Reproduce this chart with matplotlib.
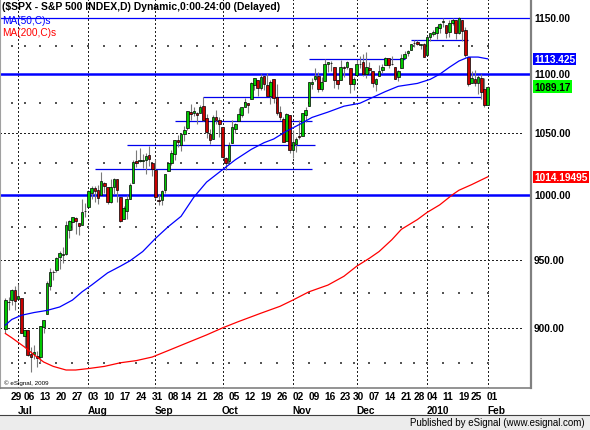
import matplotlib
matplotlib.use('Agg')
import matplotlib.pyplot as plt
import matplotlib.transforms as mtransforms
from matplotlib.patches import Rectangle
from matplotlib.lines import Line2D
import numpy as np

plt.rcParams['font.family'] = ['Liberation Sans', 'DejaVu Sans']

# trading days shown (Jun 25 2009 .. Feb 1 2010)
dates = [
    '2009-06-25', '2009-06-26', '2009-06-29', '2009-06-30',
    '2009-07-01', '2009-07-02', '2009-07-06', '2009-07-07', '2009-07-08', '2009-07-09', '2009-07-10',
    '2009-07-13', '2009-07-14', '2009-07-15', '2009-07-16', '2009-07-17', '2009-07-20', '2009-07-21',
    '2009-07-22', '2009-07-23', '2009-07-24', '2009-07-27', '2009-07-28', '2009-07-29', '2009-07-30',
    '2009-07-31',
    '2009-08-03', '2009-08-04', '2009-08-05', '2009-08-06', '2009-08-07', '2009-08-10', '2009-08-11',
    '2009-08-12', '2009-08-13', '2009-08-14', '2009-08-17', '2009-08-18', '2009-08-19', '2009-08-20',
    '2009-08-21', '2009-08-24', '2009-08-25', '2009-08-26', '2009-08-27', '2009-08-28', '2009-08-31',
    '2009-09-01', '2009-09-02', '2009-09-03', '2009-09-04', '2009-09-08', '2009-09-09', '2009-09-10',
    '2009-09-11', '2009-09-14', '2009-09-15', '2009-09-16', '2009-09-17', '2009-09-18', '2009-09-21',
    '2009-09-22', '2009-09-23', '2009-09-24', '2009-09-25', '2009-09-28', '2009-09-29', '2009-09-30',
    '2009-10-01', '2009-10-02', '2009-10-05', '2009-10-06', '2009-10-07', '2009-10-08', '2009-10-09',
    '2009-10-12', '2009-10-13', '2009-10-14', '2009-10-15', '2009-10-16', '2009-10-19', '2009-10-20',
    '2009-10-21', '2009-10-22', '2009-10-23', '2009-10-26', '2009-10-27', '2009-10-28', '2009-10-29',
    '2009-10-30',
    '2009-11-02', '2009-11-03', '2009-11-04', '2009-11-05', '2009-11-06', '2009-11-09', '2009-11-10',
    '2009-11-11', '2009-11-12', '2009-11-13', '2009-11-16', '2009-11-17', '2009-11-18', '2009-11-19',
    '2009-11-20', '2009-11-23', '2009-11-24', '2009-11-25', '2009-11-27', '2009-11-30',
    '2009-12-01', '2009-12-02', '2009-12-03', '2009-12-04', '2009-12-07', '2009-12-08', '2009-12-09',
    '2009-12-10', '2009-12-11', '2009-12-14', '2009-12-15', '2009-12-16', '2009-12-17', '2009-12-18',
    '2009-12-21', '2009-12-22', '2009-12-23', '2009-12-24', '2009-12-28', '2009-12-29', '2009-12-30',
    '2009-12-31',
    '2010-01-04', '2010-01-05', '2010-01-06', '2010-01-07', '2010-01-08', '2010-01-11', '2010-01-12',
    '2010-01-13', '2010-01-14', '2010-01-15', '2010-01-19', '2010-01-20', '2010-01-21', '2010-01-22',
    '2010-01-25', '2010-01-26', '2010-01-27', '2010-01-28', '2010-01-29', '2010-02-01',
]

opens = [
    899.45, 918.84, 919.86, 927.15,
    920.82, 921.24, 894.27, 898.60, 881.90, 881.28, 880.03, 879.57, 900.77, 910.15, 930.17, 940.56,
    942.07, 951.97, 953.40, 954.07, 972.16, 978.63, 981.48, 977.66, 976.01, 986.80,
    990.22, 1001.41, 1005.41, 1004.06, 999.83, 1008.89, 1005.77, 994.00, 1005.86, 1012.23, 998.18,
    980.62, 986.88, 996.41, 1009.06, 1026.59, 1026.63, 1027.35, 1027.81, 1031.62, 1025.21,
    1019.52, 996.07, 996.12, 1003.84, 1018.67, 1025.36, 1032.99, 1043.92, 1040.15, 1049.03, 1053.99,
    1067.87, 1066.60, 1067.14, 1066.35, 1072.69, 1062.56, 1049.48, 1045.38, 1063.69, 1061.02,
    1054.91, 1029.71, 1026.87, 1042.02, 1053.65, 1060.03, 1065.28, 1071.63, 1074.96, 1078.68, 1090.36,
    1094.67, 1088.22, 1098.64, 1090.36, 1080.96, 1095.62, 1080.36, 1067.54, 1061.51, 1043.19, 1065.41,
    1036.18, 1040.92, 1047.14, 1047.30, 1064.95, 1072.31, 1091.86, 1096.04, 1098.31, 1087.59, 1094.13,
    1109.22, 1109.44, 1106.44, 1094.66, 1094.86, 1105.83, 1106.49, 1105.47, 1091.07,
    1098.89, 1109.03, 1110.59, 1100.43, 1105.52, 1103.04, 1091.07, 1098.69, 1103.96, 1107.84, 1114.11,
    1108.61, 1106.36, 1097.86, 1105.31, 1114.51, 1118.84, 1121.08, 1127.53, 1128.55, 1125.53, 1126.60,
    1116.56, 1132.66, 1135.71, 1136.27, 1140.52, 1145.96, 1143.81, 1137.31, 1145.68, 1147.72, 1136.03,
    1147.95, 1138.68, 1115.49, 1092.40, 1095.80, 1091.94, 1096.93, 1087.61, 1073.89,
]
highs = [
    921.42, 922.00, 927.99, 930.01,
    931.92, 921.24, 898.72, 898.60, 886.80, 887.86, 883.57, 901.05, 905.84, 933.95, 943.96, 941.89,
    951.62, 956.53, 959.83, 979.42, 979.79, 982.49, 982.35, 977.76, 996.68, 993.18,
    1003.61, 1007.12, 1006.64, 1008.00, 1018.00, 1010.12, 1005.77, 1012.78, 1013.14, 1012.60, 998.18,
    991.20, 999.61, 1008.92, 1027.59, 1035.82, 1037.75, 1032.47, 1033.33, 1039.47, 1025.21,
    1028.45, 1000.34, 1003.43, 1016.48, 1026.07, 1036.34, 1044.14, 1048.18, 1049.74, 1056.04, 1068.76,
    1074.77, 1071.52, 1067.28, 1073.81, 1080.15, 1066.29, 1053.47, 1065.13, 1069.62, 1063.40,
    1054.91, 1030.60, 1042.58, 1060.55, 1058.02, 1070.67, 1071.51, 1079.46, 1075.30, 1093.17, 1096.56,
    1094.67, 1100.17, 1098.64, 1101.36, 1095.21, 1095.83, 1091.75, 1072.48, 1063.26, 1066.83, 1065.41,
    1052.18, 1046.36, 1061.00, 1066.65, 1071.48, 1093.19, 1096.42, 1105.37, 1101.97, 1097.79, 1113.69,
    1110.52, 1111.10, 1106.44, 1094.66, 1112.38, 1107.56, 1111.18, 1105.47, 1097.24,
    1112.28, 1115.58, 1117.28, 1119.13, 1110.72, 1103.04, 1097.04, 1108.44, 1108.50, 1114.76, 1114.11,
    1116.21, 1106.36, 1103.74, 1117.68, 1120.27, 1121.58, 1126.48, 1130.38, 1130.38, 1126.42, 1127.64,
    1133.87, 1136.63, 1139.19, 1142.46, 1145.39, 1149.74, 1143.81, 1148.40, 1150.41, 1147.77, 1150.45,
    1147.95, 1141.58, 1115.49, 1102.97, 1103.69, 1099.51, 1100.22, 1096.45, 1089.38,
]
lows = [
    896.27, 913.03, 916.18, 912.86,
    920.82, 896.42, 886.36, 879.93, 869.32, 878.45, 872.81, 875.32, 896.50, 910.15, 927.45, 934.65,
    940.99, 943.22, 947.75, 953.27, 965.95, 972.29, 969.35, 968.65, 976.01, 982.85,
    990.22, 996.68, 994.31, 992.49, 999.83, 1000.99, 992.40, 993.36, 1000.82, 994.60, 978.51,
    980.62, 980.62, 996.39, 1009.06, 1022.48, 1026.21, 1021.57, 1016.20, 1023.13, 1014.62,
    996.28, 991.97, 992.25, 1001.65, 1018.67, 1023.97, 1028.04, 1038.40, 1035.00, 1043.42, 1052.87,
    1061.20, 1064.27, 1057.46, 1066.35, 1060.39, 1045.85, 1041.17, 1045.38, 1057.83, 1046.47,
    1029.45, 1019.95, 1025.92, 1042.02, 1050.10, 1060.03, 1063.00, 1071.63, 1066.71, 1078.68, 1086.41,
    1081.53, 1086.48, 1086.16, 1080.77, 1074.31, 1075.49, 1065.23, 1060.62, 1042.19, 1043.19, 1033.38,
    1029.38, 1033.94, 1045.15, 1047.30, 1059.32, 1072.31, 1087.40, 1093.81, 1084.90, 1085.33, 1094.13,
    1102.19, 1102.70, 1088.40, 1086.81, 1094.86, 1097.63, 1104.75, 1083.74, 1086.25,
    1098.89, 1105.29, 1098.74, 1096.52, 1100.83, 1088.61, 1085.89, 1098.69, 1101.34, 1107.84, 1105.35,
    1107.96, 1095.88, 1093.88, 1105.31, 1114.51, 1116.00, 1121.08, 1123.51, 1126.08, 1121.94, 1114.81,
    1116.56, 1129.66, 1133.95, 1131.32, 1136.22, 1142.02, 1131.77, 1133.18, 1143.80, 1131.39, 1135.77,
    1129.25, 1114.84, 1090.18, 1092.40, 1089.86, 1083.11, 1078.46, 1071.59, 1073.89,
]
closes = [
    920.26, 918.90, 927.23, 919.32,
    923.33, 896.42, 898.72, 881.03, 879.56, 882.68, 879.13, 901.05, 905.84, 932.68, 940.74, 940.38,
    951.13, 954.58, 954.07, 976.29, 979.26, 982.18, 979.62, 975.15, 986.75, 987.48,
    1002.63, 1005.65, 1002.72, 997.08, 1010.48, 1007.10, 994.35, 1005.81, 1012.73, 1004.09, 979.73,
    989.67, 996.46, 1007.37, 1026.13, 1025.57, 1028.00, 1028.12, 1030.98, 1028.93, 1020.62,
    998.04, 994.75, 1003.24, 1016.40, 1025.39, 1033.37, 1044.14, 1042.73, 1049.34, 1052.63, 1068.76,
    1065.49, 1068.30, 1064.66, 1071.66, 1060.87, 1050.78, 1044.38, 1062.98, 1060.61, 1057.08,
    1029.85, 1025.21, 1040.46, 1054.72, 1057.58, 1065.48, 1071.49, 1076.19, 1073.19, 1092.02, 1096.56,
    1087.68, 1097.91, 1091.06, 1081.40, 1092.91, 1079.60, 1066.95, 1063.41, 1042.63, 1066.11, 1036.19,
    1042.88, 1045.41, 1046.50, 1066.63, 1069.30, 1093.08, 1093.01, 1098.51, 1087.24, 1093.48, 1109.30,
    1110.32, 1109.80, 1094.90, 1091.38, 1106.24, 1105.65, 1110.63, 1091.49, 1095.63,
    1108.86, 1109.24, 1099.92, 1105.98, 1103.25, 1091.94, 1095.95, 1102.35, 1106.41, 1114.11, 1107.93,
    1109.18, 1096.08, 1102.47, 1114.05, 1118.02, 1120.59, 1126.48, 1127.78, 1126.20, 1126.42, 1115.10,
    1132.99, 1136.52, 1137.14, 1141.69, 1144.98, 1146.98, 1136.22, 1145.68, 1148.46, 1136.03, 1150.23,
    1138.04, 1116.48, 1091.76, 1096.78, 1092.17, 1097.50, 1084.53, 1073.87, 1089.17,
]

# moving averages
ma50_dates = ['2009-06-25', '2009-06-29', '2009-07-02', '2009-07-09', '2009-07-15', '2009-07-21',
              '2009-07-27', '2009-07-30', '2009-08-04', '2009-08-11', '2009-08-17', '2009-08-20',
              '2009-08-26', '2009-09-01', '2009-09-08', '2009-09-14', '2009-09-18', '2009-09-24',
              '2009-10-01', '2009-10-07', '2009-10-14', '2009-10-20', '2009-10-23', '2009-10-29',
              '2009-11-04', '2009-11-10', '2009-11-17', '2009-11-24', '2009-12-02', '2009-12-08',
              '2009-12-14', '2009-12-18', '2009-12-29', '2010-01-05', '2010-01-08', '2010-01-13',
              '2010-01-19', '2010-01-22', '2010-01-27', '2010-02-01']
ma50_vals = [902, 906, 909, 911, 912.5, 915, 920, 926, 931, 940, 945, 949, 956, 966, 975, 983,
             998, 1010, 1020, 1028, 1036.5, 1042, 1045, 1051.5, 1057, 1063, 1067.5, 1072.5, 1075,
             1080, 1085, 1089.5, 1092, 1095.5, 1100, 1106, 1111.5, 1115, 1115, 1113.425]

ma200_dates = ['2009-06-25', '2009-06-29', '2009-07-06', '2009-07-09', '2009-07-14', '2009-07-17',
               '2009-07-23', '2009-07-28', '2009-08-03', '2009-08-10', '2009-08-17', '2009-08-24',
               '2009-08-31', '2009-09-08', '2009-09-16', '2009-09-24', '2009-10-01', '2009-10-08',
               '2009-10-19', '2009-10-27', '2009-11-02', '2009-11-09', '2009-11-17', '2009-11-24',
               '2009-12-01', '2009-12-07', '2009-12-10', '2009-12-16', '2009-12-21', '2009-12-29',
               '2010-01-04', '2010-01-08', '2010-01-14', '2010-01-19', '2010-01-25', '2010-02-01']
ma200_vals = [896, 893, 886.5, 881, 876, 873, 870.5, 870.5, 871.5, 873, 875.5, 877, 879.5, 884,
              889.5, 895, 900, 904.5, 910.5, 915.5, 920, 926, 931, 937.5, 945, 951, 956, 965, 973,
              980.5, 986, 992, 1000, 1003.5, 1008, 1014.19495]

# drawn support / resistance lines
seg_prices = [1020.7, 1040, 1060, 1080.5, 1113.5, 1130.3]
seg_start = ['2009-08-05', '2009-08-19', '2009-09-10', '2009-09-23', '2009-11-09', '2009-12-24']
seg_end = ['2009-11-10', '2009-11-11', '2009-11-10', '2010-01-28', '2009-12-22', '2010-01-22']
full_lines = [1150, 1100, 1000]

price_labels = [900, 950, 1000, 1050, 1100, 1150]
minor_levels = [875, 925, 975, 1025, 1075, 1125]

week_dates = ['2009-06-29', '2009-07-06', '2009-07-13', '2009-07-20', '2009-07-27', '2009-08-03',
              '2009-08-10', '2009-08-17', '2009-08-24', '2009-08-31', '2009-09-08', '2009-09-14',
              '2009-09-21', '2009-09-28', '2009-10-05', '2009-10-12', '2009-10-19', '2009-10-26',
              '2009-11-02', '2009-11-09', '2009-11-16', '2009-11-23', '2009-11-30', '2009-12-07',
              '2009-12-14', '2009-12-21', '2009-12-28', '2010-01-04', '2010-01-11', '2010-01-19',
              '2010-01-25', '2010-02-01']
month_dates = ['2009-07-01', '2009-08-03', '2009-09-01', '2009-10-01', '2009-11-02', '2009-12-01',
               '2010-01-04', '2010-02-01']
month_names = ['Jul', 'Aug', 'Sep', 'Oct', 'Nov', 'Dec', '2010', 'Feb']

pos = {d: i for i, d in enumerate(dates)}
x = np.arange(len(dates))
o = np.array(opens); h = np.array(highs); l = np.array(lows); c = np.array(closes)

W, H = 590, 431
fig = plt.figure(figsize=(W / 100, H / 100), dpi=100)
ax = fig.add_axes([0, (H - 389) / H, 531 / W, 389 / H])
ax.set_yscale('log')
ax.set_ylim(858.2, 1167.4)
ax.set_xlim(-1.68, 164.57)
ax.tick_params(axis='both', which='both', left=False, right=False, bottom=False, top=False,
               labelleft=False, labelbottom=False)
ax.spines['top'].set_visible(False)
ax.spines['left'].set_color('#a0a0a0')
ax.spines['right'].set_color('#808080')
ax.spines['right'].set_linewidth(1.6)
ax.spines['bottom'].set_color('#808080')
ax.spines['bottom'].set_linewidth(1.2)

x_grid_end = (523 - 88.4) / 3.194 + 26

# grid
for d in month_dates:
    ax.axvline(pos[d], color='#222222', lw=1.0, ls=(0, (1, 2)), antialiased=False, zorder=1)
ax.hlines(price_labels, -1.68, x_grid_end, color='#222222', lw=1.0, ls=(0, (1, 2)),
          antialiased=False, zorder=1)
wx = [pos[d] for d in week_dates]
for lv in minor_levels:
    ax.scatter(wx, [lv] * len(wx), s=0.8, marker='s', color='#555555', lw=0, zorder=1)

# lines
ax.hlines(seg_prices, [pos[d] for d in seg_start], [pos[d] for d in seg_end],
          color='#0000ee', lw=0.9, zorder=2)
ax.hlines(full_lines, -1.68, 164.57, color='#0000ff', lw=[0.9, 1.8, 1.8], zorder=2)

# candles
up = c >= o
ax.vlines(x, l, h, color='#7a7a7a', lw=0.8, zorder=3)
ax.bar(x, np.abs(c - o), bottom=np.minimum(o, c), width=0.8,
       color=np.where(up, '#00c800', '#c80000'), edgecolor='black', lw=0.5, zorder=4)

ax.plot([pos[d] for d in ma50_dates], ma50_vals, color='#0000ff', lw=0.9, zorder=5)
ax.plot([pos[d] for d in ma200_dates], ma200_vals, color='#ff0000', lw=0.9, zorder=5)

# right price scale
tr = mtransforms.blended_transform_factory(ax.transAxes, ax.transData)
for p in price_labels:
    ax.text(534 / 531, p, f'{p:.2f}', transform=tr, ha='left', va='center', fontsize=7.3,
            fontweight='bold', clip_on=False)
ax.text(534 / 531, 1113.425, '1113.425', transform=tr, ha='left', va='center', fontsize=7.3,
        fontweight='bold', color='white', clip_on=False,
        bbox=dict(boxstyle='square,pad=0.12', fc='#0000ff', ec='none'))
ax.text(534 / 531, 1089.17, '1089.17', transform=tr, ha='left', va='center', fontsize=7.3,
        fontweight='bold', color='black', clip_on=False,
        bbox=dict(boxstyle='square,pad=0.12', fc='#00ff00', ec='none'))
ax.text(534 / 531, 1014.19495, '1014.19495', transform=tr, ha='left', va='center', fontsize=7.3,
        fontweight='bold', color='white', clip_on=False,
        bbox=dict(boxstyle='square,pad=0.12', fc='#ff0000', ec='none'))

# date labels
tx = mtransforms.blended_transform_factory(ax.transData, fig.transFigure)
for d in week_dates:
    fig.text(pos[d] - 0.2, 1 - 397 / H, d[-2:], transform=tx, ha='left', va='center',
             fontsize=7.3, fontweight='bold')
for d, name in zip(month_dates, month_names):
    fig.text(pos[d] - 0.2, 1 - 411 / H, name, transform=tx, ha='left', va='center',
             fontsize=7.3, fontweight='bold')

# header texts
fig.text(2 / W, 1 - 7.5 / H, '($SPX - S&P 500 INDEX,D) Dynamic,0:00-24:00 (Delayed)',
         ha='left', va='center', fontsize=7.5, fontweight='bold')
fig.text(2 / W, 1 - 21.5 / H, 'MA(50,C)s', ha='left', va='center', fontsize=7.3, color='#0000ff')
fig.text(2 / W, 1 - 33.5 / H, 'MA(200,C)s', ha='left', va='center', fontsize=7.3, color='#ff0000')
fig.text(4 / W, 1 - 383.5 / H, '\u00a9 eSignal, 2009', ha='left', va='center', fontsize=4.5)

# status bar
fig.patches.append(Rectangle((0, 0), 1, 15 / H, transform=fig.transFigure,
                             fc='#ececec', ec='none', zorder=0))
fig.lines.append(Line2D([0, 1], [15 / H, 15 / H], transform=fig.transFigure,
                        color='#404040', lw=0.8))
fig.text(585 / W, 1 - 423.5 / H, 'Published by eSignal (www.esignal.com)',
         ha='right', va='center', fontsize=7)

fig.savefig('out.png', dpi=100)
